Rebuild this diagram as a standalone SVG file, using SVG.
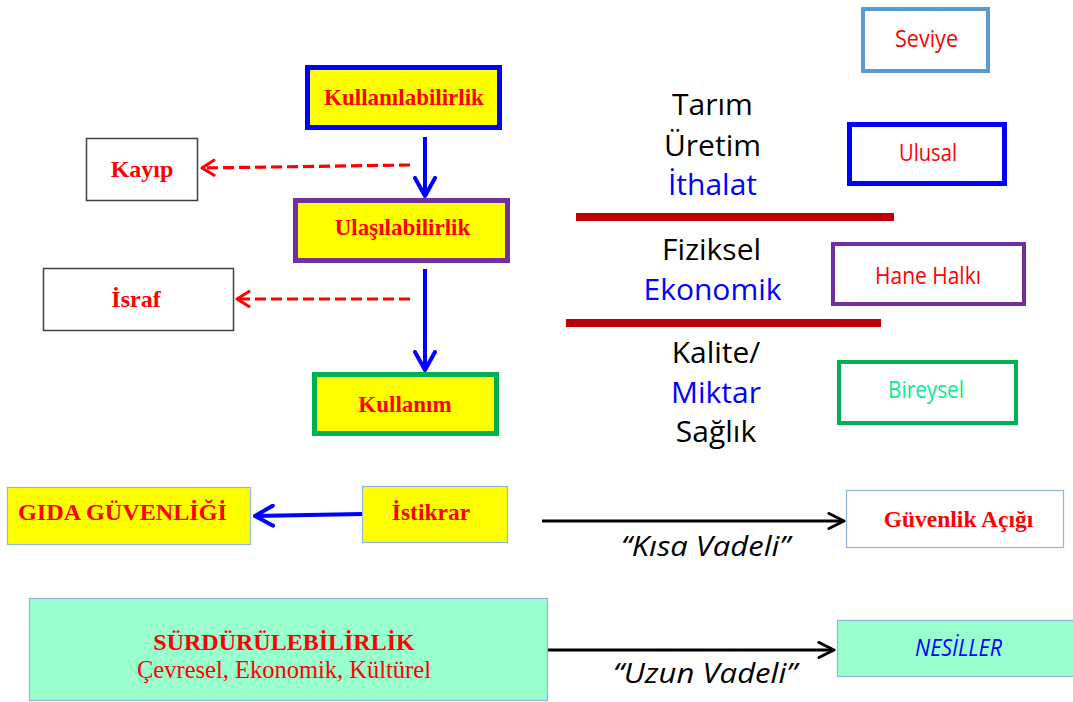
<svg xmlns="http://www.w3.org/2000/svg" width="1073" height="702" viewBox="0 0 1073 702">
<style>
.bs{font-family:"Liberation Serif","Times New Roman",serif;font-weight:bold;font-size:23px;fill:#FF0000;text-anchor:middle}
.rs{font-family:"Liberation Serif","Times New Roman",serif;font-size:24.5px;fill:#FF0000;text-anchor:middle}
.ss{font-family:"Open Sans","Noto Sans",sans-serif;font-size:30px;text-anchor:middle}
.lb{font-family:"Open Sans","Noto Sans",sans-serif;font-size:23px;text-anchor:middle}
.it{font-family:"Open Sans","Noto Sans",sans-serif;font-style:italic;font-size:28px;fill:#000;text-anchor:middle}
.k{fill:#000}
.b{fill:#0000FF}
.yel{fill:#FFFF00}
.thin{stroke:#8DB4E2;stroke-width:1.2}
.gray{fill:#FFFFFF;stroke:#404040;stroke-width:1.5}
.mint{fill:#99FFCC}
</style>
<defs>
<marker id="mBlue" markerUnits="userSpaceOnUse" viewBox="-2 -2 24 24" markerWidth="24" markerHeight="24" refX="18" refY="10" orient="auto">
<path d="M0,0 L18,10 L0,20" fill="none" stroke="#0000FF" stroke-width="4" stroke-linejoin="round" stroke-linecap="round"/>
</marker>
<marker id="mRed" markerUnits="userSpaceOnUse" viewBox="-2 -2 18 19" markerWidth="18" markerHeight="19" refX="12" refY="7.5" orient="auto">
<path d="M0,0 L12,7.5 L0,15" fill="none" stroke="#FF0000" stroke-width="3" stroke-linejoin="round" stroke-linecap="round"/>
</marker>
<marker id="mBlack" markerUnits="userSpaceOnUse" viewBox="-2 -2 20 20" markerWidth="20" markerHeight="20" refX="15" refY="7.5" orient="auto">
<path d="M0,0 L15,7.5 L0,15" fill="none" stroke="#000" stroke-width="3" stroke-linejoin="round" stroke-linecap="round"/>
</marker>
</defs>
<rect x="0" y="0" width="1073" height="702" fill="#FFFFFF"/>

<g id="connectors">
<line x1="425" y1="137" x2="425" y2="196" stroke="#0000FF" stroke-width="4" marker-end="url(#mBlue)"/>
<line x1="425" y1="269" x2="425" y2="370" stroke="#0000FF" stroke-width="4" marker-end="url(#mBlue)"/>
<line x1="362" y1="514" x2="255" y2="516" stroke="#0000FF" stroke-width="4" marker-end="url(#mBlue)"/>
<line x1="410" y1="165" x2="202" y2="168" stroke="#FF0000" stroke-width="3.2" stroke-dasharray="11,5" marker-end="url(#mRed)"/>
<line x1="410" y1="299" x2="237" y2="299" stroke="#FF0000" stroke-width="3.2" stroke-dasharray="11,5" marker-end="url(#mRed)"/>
<line x1="542" y1="521" x2="844" y2="521" stroke="#000" stroke-width="3" marker-end="url(#mBlack)"/>
<line x1="548" y1="650" x2="834" y2="650" stroke="#000" stroke-width="3" marker-end="url(#mBlack)"/>
<text class="it" x="705.5" y="556" textLength="169" lengthAdjust="spacingAndGlyphs">“Kısa Vadeli”</text>
<text class="it" x="705" y="683" textLength="184" lengthAdjust="spacingAndGlyphs">“Uzun Vadeli”</text>
</g>

<g id="kullanilabilirlik">
<rect x="307.5" y="67.5" width="192" height="60" class="yel" stroke="#0000FF" stroke-width="5"/>
<text class="bs" x="404" y="105">Kullanılabilirlik</text>
</g>
<g id="ulasilabilirlik">
<rect x="295.5" y="200.5" width="212" height="60" class="yel" stroke="#7030A0" stroke-width="5"/>
<text class="bs" x="402.5" y="235">Ulaşılabilirlik</text>
</g>
<g id="kullanim">
<rect x="314.5" y="374.5" width="182" height="59" class="yel" stroke="#00B050" stroke-width="5"/>
<text class="bs" x="405" y="412">Kullanım</text>
</g>
<g id="kayip">
<rect x="86.5" y="138.5" width="111" height="62" class="gray"/>
<text class="bs" x="142" y="177" style="font-size:24px">Kayıp</text>
</g>
<g id="israf">
<rect x="43.5" y="268.5" width="190" height="62" class="gray"/>
<text class="bs" x="136" y="307" style="font-size:24px">İsraf</text>
</g>
<g id="gida">
<rect x="7.5" y="487.5" width="243" height="57" class="yel thin"/>
<text class="bs" x="122.5" y="520" style="font-size:24px" textLength="209" lengthAdjust="spacingAndGlyphs">GIDA GÜVENLİĞİ</text>
</g>
<g id="istikrar">
<rect x="362.5" y="486.5" width="145" height="56" class="yel thin"/>
<text class="bs" x="431" y="520" style="font-size:23.5px">İstikrar</text>
</g>
<g id="guvenlik">
<rect x="846.5" y="490.5" width="217" height="57" fill="#FFFFFF" class="thin"/>
<text class="bs" x="958.5" y="527" style="font-size:23.5px">Güvenlik Açığı</text>
</g>
<g id="surdurulebilirlik">
<rect x="29.5" y="598.5" width="518" height="102" class="mint thin"/>
<text class="bs" x="284" y="650" style="font-size:24px">SÜRDÜRÜLEBİLİRLİK</text>
<text class="rs" x="284" y="678">Çevresel, Ekonomik, Kültürel</text>
</g>
<g id="nesiller">
<rect x="837.5" y="620.5" width="240" height="56" class="mint thin"/>
<text class="lb b" x="958.5" y="656" style="font-style:italic" textLength="87" lengthAdjust="spacingAndGlyphs">NESİLLER</text>
</g>

<g id="boyutlar">
<text class="ss k" x="712.5" y="115">Tarım</text>
<text class="ss k" x="712.5" y="156">Üretim</text>
<text class="ss b" x="712.5" y="195">İthalat</text>
<rect x="576" y="213" width="318" height="8" fill="#C00000"/>
<text class="ss k" x="711.5" y="260">Fiziksel</text>
<text class="ss b" x="712.5" y="300">Ekonomik</text>
<rect x="566" y="319" width="315" height="8" fill="#C00000"/>
<text class="ss k" x="716" y="363">Kalite/</text>
<text class="ss b" x="716" y="403">Miktar</text>
<text class="ss k" x="716" y="442">Sağlık</text>
</g>

<g id="seviye">
<rect x="863" y="9" width="125" height="62" fill="#FFFFFF" stroke="#5B9BD5" stroke-width="4"/>
<text class="lb" x="926.5" y="47" fill="#FF0000" textLength="63" lengthAdjust="spacingAndGlyphs">Seviye</text>
</g>
<g id="ulusal">
<rect x="849.5" y="124.5" width="155" height="59" fill="#FFFFFF" stroke="#0000FF" stroke-width="5"/>
<text class="lb" x="928" y="161" fill="#FF0000" textLength="58" lengthAdjust="spacingAndGlyphs">Ulusal</text>
</g>
<g id="hanehalki">
<rect x="833" y="244" width="191" height="60" fill="#FFFFFF" stroke="#7030A0" stroke-width="4"/>
<text class="lb" x="928" y="284" fill="#FF0000" textLength="106" lengthAdjust="spacingAndGlyphs">Hane Halkı</text>
</g>
<g id="bireysel">
<rect x="839" y="362" width="177" height="61" fill="#FFFFFF" stroke="#00B050" stroke-width="4"/>
<text class="lb" x="926" y="398" fill="#00F090" textLength="76" lengthAdjust="spacingAndGlyphs">Bireysel</text>
</g>
</svg>
